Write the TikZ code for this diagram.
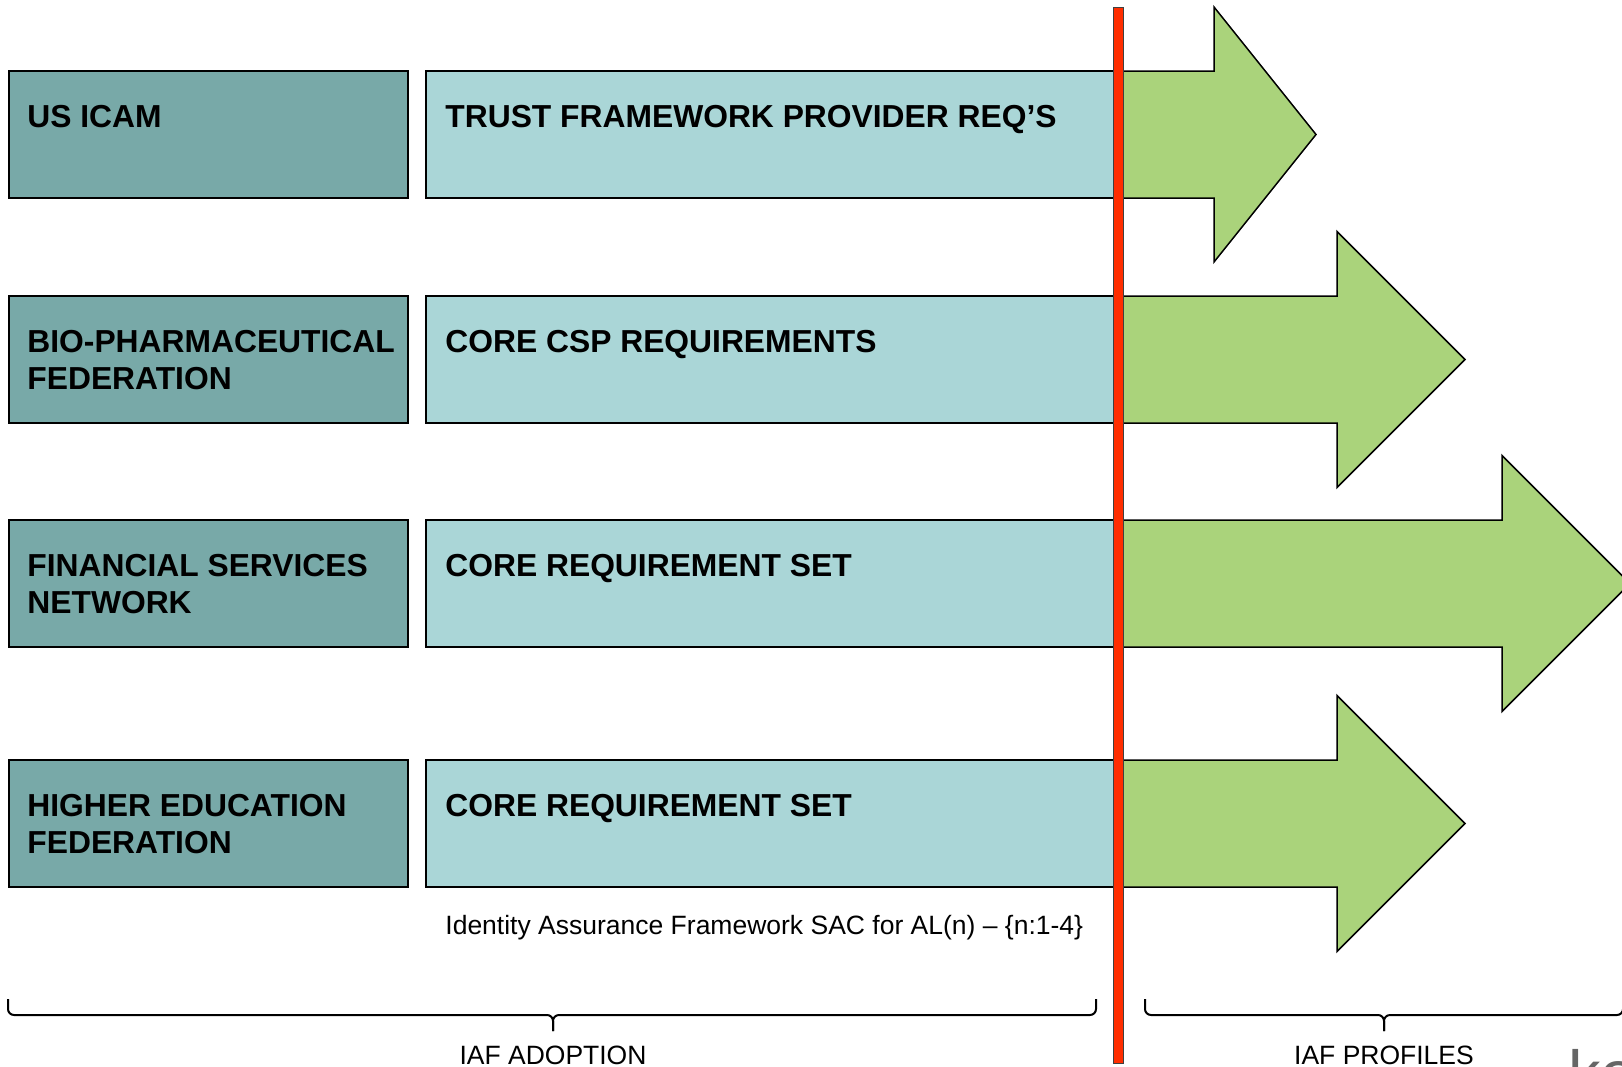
\documentclass[tikz,border=0pt]{standalone}
\usepackage{fontspec}
\setmainfont{Liberation Sans}
\usepackage{color}
\usetikzlibrary{positioning}

\definecolor{orgteal}{HTML}{78A9A8}
\definecolor{reqblue}{HTML}{AAD6D7}
\definecolor{profgreen}{HTML}{AAD37B}
\definecolor{divred}{HTML}{FF2D00}

\begin{document}
\begin{tikzpicture}[x=0.5pt,y=-0.5pt,
    orgbox/.style={draw,line width=1pt,fill=orgteal,minimum width=199.5pt,minimum height=63.5pt,inner sep=0pt,outer sep=0pt},
    reqbox/.style={draw,line width=1pt,fill=reqblue,minimum width=345.5pt,minimum height=63.5pt,inner sep=0pt,outer sep=0pt},
    boxtext/.style={anchor=north west,inner sep=0pt,align=left,font=\fontsize{15.9}{18.5}\selectfont\bfseries},
    profarrow/.style={draw,line width=0.75pt,fill=profgreen,line join=miter},
    divider/.style={draw=black!75,line width=0.4pt,fill=divred,minimum width=5pt,minimum height=528pt,inner sep=0pt},
    note/.style={inner sep=0pt,font=\fontsize{13.25}{15}\selectfont},
    brace/.style={line width=1pt,rounded corners=3pt}]
\path[use as bounding box,clip] (0,0) rectangle (1622,1066);

% federations on the left, requirement sets beside them
\node[orgbox,anchor=north west] (icam) at (9,71) {};
\node[reqbox,right=9pt of icam] (tfp) {};
\node[orgbox,anchor=north west] (bio) at (9,296) {};
\node[reqbox,right=9pt of bio] (csp) {};
\node[orgbox,anchor=north west] (fsn) at (9,520) {};
\node[reqbox,right=9pt of fsn] (crsa) {};
\node[orgbox,anchor=north west] (hef) at (9,760) {};
\node[reqbox,right=9pt of hef] (crsb) {};

\node[boxtext] at ([xshift=9pt,yshift=-16.75pt]icam.north west) {US ICAM};
\node[boxtext] at ([xshift=9pt,yshift=-16.75pt]bio.north west) {BIO-PHARMACEUTICAL\\FEDERATION};
\node[boxtext] at ([xshift=9pt,yshift=-16.75pt]fsn.north west) {FINANCIAL SERVICES\\NETWORK};
\node[boxtext] at ([xshift=9pt,yshift=-16.75pt]hef.north west) {HIGHER EDUCATION\\FEDERATION};

\node[boxtext] at ([xshift=9.5pt,yshift=-16.75pt]tfp.north west) {TRUST FRAMEWORK PROVIDER REQ’S};
\node[boxtext] at ([xshift=9.5pt,yshift=-16.75pt]csp.north west) {CORE CSP REQUIREMENTS};
\node[boxtext] at ([xshift=9.5pt,yshift=-16.75pt]crsa.north west) {CORE REQUIREMENT SET};
\node[boxtext] at ([xshift=9.5pt,yshift=-16.75pt]crsb.north west) {CORE REQUIREMENT SET};

% profile arrows
\draw[profarrow] (tfp.north east) -- (1214,71) -- (1214,7) -- (1316,134.5) -- (1214,262) -- (1214,198) -- (tfp.south east) -- cycle;
\draw[profarrow] (csp.north east) -- (1337,296) -- (1337,231.5) -- (1465,359.5) -- (1337,487.5) -- (1337,423) -- (csp.south east) -- cycle;
\draw[profarrow] (crsa.north east) -- (1502,520) -- (1502,455.5) -- (1630,583.5) -- (1502,711.5) -- (1502,647) -- (crsa.south east) -- cycle;
\draw[profarrow] (crsb.north east) -- (1337,760) -- (1337,695.5) -- (1465,823.5) -- (1337,951.5) -- (1337,887) -- (crsb.south east) -- cycle;

\node[divider] (div) at (1118,535) {};

\node[note,anchor=west] (sac) at (445,928) {Identity Assurance Framework SAC for AL(n) – \{n:1-4\}};

% braces
\draw[brace] (8,999) -- (8,1015) -- (553,1015) -- (553,1031);
\draw[brace] (553,1031) -- (553,1015) -- (1096,1015) -- (1096,999);
\draw[brace] (1145,999) -- (1145,1015) -- (1384,1015) -- (1384,1031);
\draw[brace] (1384,1031) -- (1384,1015) -- (1623,1015) -- (1623,999);

\node[note,anchor=north] (adopt) at (553,1046) {IAF ADOPTION};
\node[note,anchor=north] (prof) at (1384,1046) {IAF PROFILES};

\node[anchor=base west,inner sep=0pt,text=black!60,font=\fontsize{32.5}{36}\selectfont] (logo) at (1568,1096) {ko};

\end{tikzpicture}
\end{document}
